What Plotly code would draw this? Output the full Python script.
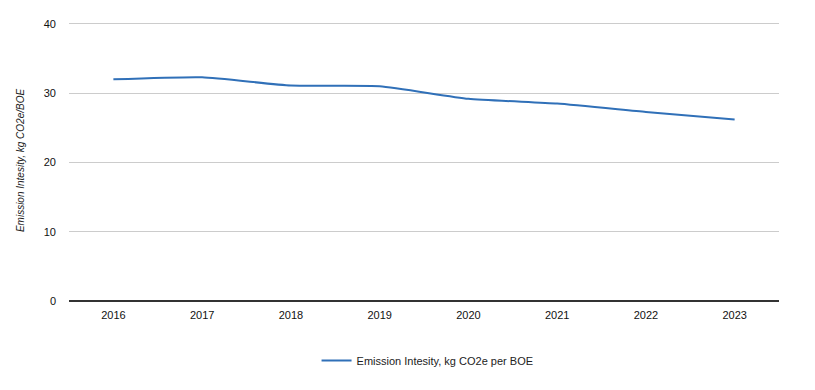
import plotly.graph_objects as go

years = ["2016", "2017", "2018", "2019", "2020", "2021", "2022", "2023"]
intensity = [32.0, 32.3, 31.1, 31.0, 29.2, 28.5, 27.3, 26.2]
series_name = "Emission Intesity, kg CO2e per BOE"
y_ticks = [0, 10, 20, 30, 40]

fig = go.Figure()
fig.add_trace(go.Scatter(
    x=years, y=intensity, mode="lines", name=series_name,
    line=dict(color="#3070B8", width=2, shape="spline", smoothing=0.5),
))

fig.update_layout(
    width=807, height=382,
    margin=dict(l=61, r=36, t=10, b=89),
    paper_bgcolor="white", plot_bgcolor="white",
    font=dict(family="Liberation Sans, Arial, sans-serif", size=11, color="#222222"),
    showlegend=True,
    legend=dict(orientation="h", x=0.505, xanchor="center", y=-0.16, yanchor="top",
                font=dict(size=11, color="#222222")),
    xaxis=dict(
        type="category", range=[-0.5, 7.5], showgrid=False, showline=False, zeroline=False,
        tickfont=dict(size=11, color="#111111"),
        ticks="", ticklabelstandoff=6,
    ),
    yaxis=dict(
        range=[0, 40.57], tickvals=y_ticks, showgrid=True, gridcolor="#cccccc", gridwidth=1,
        zeroline=True, zerolinecolor="#333333", zerolinewidth=1.5,
        showline=False, ticks="", ticklabelstandoff=12,
        tickfont=dict(size=11, color="#111111"),
        title=dict(text="<i>Emission Intesity, kg CO2e/BOE</i>", standoff=17,
                   font=dict(size=10, color="#222222")),
    ),
)

fig.write_html("out.html")
